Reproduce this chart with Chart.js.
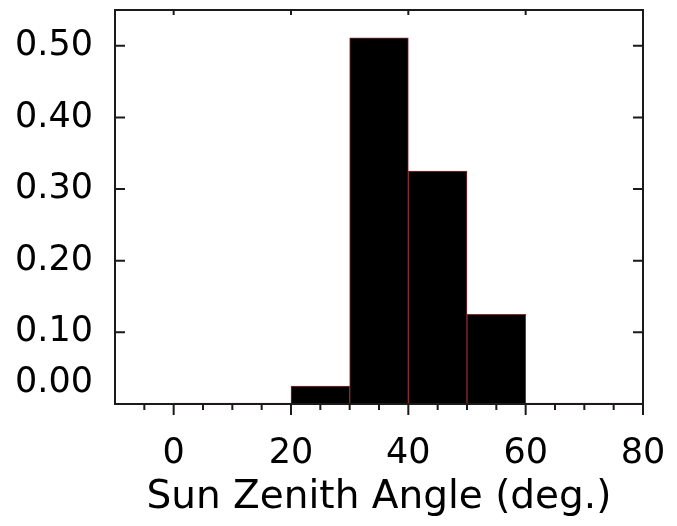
<!DOCTYPE html>
<html>
<head>
<meta charset="utf-8">
<script src="https://cdn.jsdelivr.net/npm/chart.js@4"></script>
<style>
  html, body { margin: 0; background: #fff; }
  #wrap { width: 677px; height: 526px; }
</style>
</head>
<body>
<div id="wrap"><canvas id="grafico"></canvas></div>
<script>
// Histogram bins (deg.) and fraction in each bin
const binStart = [0, 10, 20, 30, 40, 50, 60, 70];
const binWidth = 10;
const fraction = [0, 0, 0.025, 0.511, 0.325, 0.125, 0, 0];

// Axis ticks
const xTicks = [0, 20, 40, 60, 80];
const xMinor = [-5, 5, 10, 15, 25, 30, 35, 45, 50, 55, 65, 70, 75];
const yTicks = [0, 0.1, 0.2, 0.3, 0.4, 0.5];

const fonteTicks = { family: 'DejaVu Sans', size: 35 };
const fonteTitulo = { family: 'DejaVu Sans', size: 39 };

// moldura e marcas de escala
const moldura = {
  id: 'moldura',
  afterDatasetsDraw(chart) {
    const { ctx, chartArea: a, scales: { x, y } } = chart;
    ctx.save();
    ctx.strokeStyle = '#1a1a1a';
    ctx.lineWidth = 2;
    ctx.strokeRect(a.left, a.top, a.right - a.left, a.bottom - a.top);
    ctx.beginPath();
    yTicks.forEach(v => {
      const py = y.getPixelForValue(v);
      ctx.moveTo(a.left, py); ctx.lineTo(a.left + 10, py);
      ctx.moveTo(a.right, py); ctx.lineTo(a.right - 10, py);
    });
    xTicks.forEach(v => {
      const px = x.getPixelForValue(v);
      ctx.moveTo(px, a.bottom); ctx.lineTo(px, a.bottom + 11);
      ctx.moveTo(px, a.top); ctx.lineTo(px, a.top + 5);
    });
    xMinor.forEach(v => {
      const px = x.getPixelForValue(v);
      ctx.moveTo(px, a.bottom); ctx.lineTo(px, a.bottom + 6);
    });
    ctx.stroke();
    ctx.restore();
  }
};

new Chart(document.getElementById('grafico'), {
  type: 'bar',
  data: {
    datasets: [{
      data: binStart.map((b, i) => ({ x: b + binWidth / 2, y: fraction[i] })),
      backgroundColor: ctx => (ctx.raw && ctx.raw.y > 0 ? '#000000' : '#8b2a2a'),
      borderColor: '#8b2a2a',
      borderWidth: 1,
      borderSkipped: false,
      minBarLength: 1,
      barPercentage: 1,
      categoryPercentage: 1
    }]
  },
  options: {
    responsive: true,
    maintainAspectRatio: false,
    animation: false,
    layout: { padding: { top: 10, right: 34, left: 0, bottom: 0 } },
    plugins: { legend: { display: false }, tooltip: { enabled: false } },
    scales: {
      x: {
        type: 'linear',
        min: -10,
        max: 80,
        offset: false,
        afterBuildTicks: s => { s.ticks = xTicks.map(v => ({ value: v })); },
        afterFit: s => { s.height = 122; s.paddingLeft = 0; s.paddingRight = 0; },
        grid: { display: false },
        border: { display: false },
        ticks: { color: '#000', font: fonteTicks, padding: 21, maxRotation: 0, autoSkip: false },
        title: {
          display: true,
          text: 'Sun Zenith Angle (deg.)',
          color: '#000',
          font: fonteTitulo,
          padding: { top: 0, bottom: 5 }
        }
      },
      y: {
        min: 0,
        max: 0.55,
        afterBuildTicks: s => { s.ticks = yTicks.map(v => ({ value: v })); },
        afterFit: s => { s.width = 115; s.paddingTop = 0; s.paddingBottom = 0; },
        grid: { display: false },
        border: { display: false },
        ticks: {
          color: '#000',
          font: fonteTicks,
          padding: 14,
          autoSkip: false,
          // o rótulo 0.00 fica um pouco acima do eixo
          callback: v => (v === 0 ? ['0.00', ''] : v.toFixed(2))
        }
      }
    }
  },
  plugins: [moldura]
});
</script>
</body>
</html>
